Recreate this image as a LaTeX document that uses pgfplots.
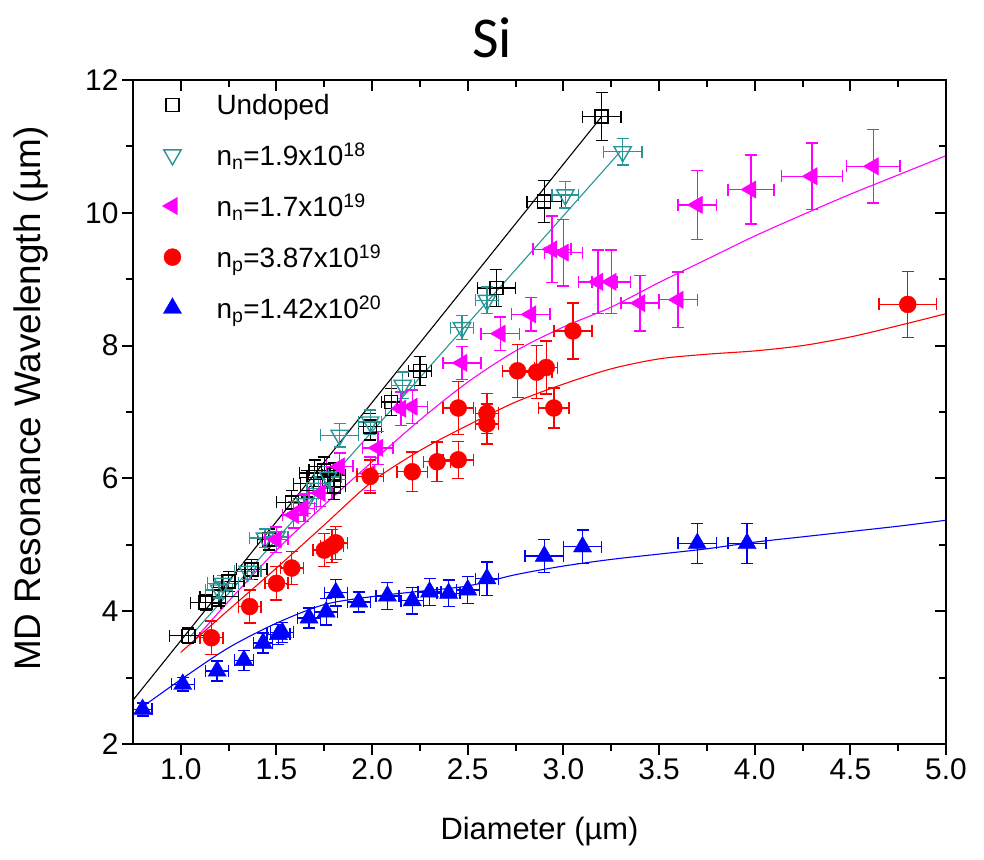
\documentclass[border=0pt]{standalone}
\usepackage{fontspec}
\setmainfont{Liberation Sans}
\newfontfamily\calibri{Carlito}
\usepackage{pgfplots}
\pgfplotsset{compat=1.18}
\usepackage{pgfplotstable}

\definecolor{cteal}{RGB}{40,150,150}
\definecolor{cmag}{RGB}{255,0,255}
\definecolor{cred}{RGB}{255,0,0}
\definecolor{cblue}{RGB}{0,0,255}

\pgfplotstableread{
x y ex ey
1.04 3.63 0.10 0.12
1.13 4.13 0.08 0.12
1.20 4.22 0.10 0.14
1.25 4.45 0.08 0.15
1.37 4.63 0.08 0.15
1.46 5.08 0.06 0.16
1.58 5.64 0.08 0.18
1.66 5.92 0.07 0.20
1.70 6.08 0.08 0.20
1.75 6.12 0.08 0.20
1.80 6.05 0.06 0.18
1.80 5.88 0.06 0.20
1.99 6.78 0.06 0.20
2.10 7.15 0.05 0.20
2.25 7.62 0.06 0.22
2.65 8.87 0.10 0.28
2.90 10.17 0.09 0.32
3.20 11.45 0.10 0.36
}\undoped

\pgfplotstableread{
x y ex ey
1.20 4.32 0.07 0.12
1.22 4.42 0.08 0.12
1.35 4.60 0.07 0.12
1.44 5.10 0.08 0.14
1.50 5.12 0.06 0.14
1.65 5.62 0.06 0.15
1.72 5.85 0.06 0.15
1.77 6.02 0.07 0.16
1.83 6.65 0.10 0.18
1.99 6.85 0.06 0.18
2.16 7.40 0.06 0.20
2.47 8.27 0.06 0.18
2.60 8.68 0.06 0.20
3.01 10.27 0.07 0.20
3.31 10.92 0.10 0.20
}\nnlow

\pgfplotstableread{
x y ex ey
1.50 5.08 0.06 0.20
1.59 5.45 0.06 0.20
1.64 5.55 0.06 0.20
1.73 5.78 0.06 0.20
1.83 6.18 0.07 0.20
1.99 6.07 0.07 0.25
2.03 6.46 0.08 0.25
2.15 7.05 0.08 0.25
2.21 7.08 0.08 0.25
2.47 7.74 0.10 0.25
2.67 8.18 0.10 0.25
2.83 8.47 0.10 0.25
2.94 9.45 0.10 0.50
3.00 9.40 0.10 0.50
3.18 8.96 0.10 0.48
3.25 8.96 0.10 0.48
3.40 8.64 0.10 0.42
3.60 8.69 0.10 0.42
3.70 10.12 0.10 0.52
3.98 10.35 0.12 0.52
4.30 10.55 0.16 0.50
4.62 10.70 0.14 0.55
}\nnhigh

\pgfplotstableread{
x y ex ey
1.16 3.60 0.06 0.25
1.36 4.07 0.06 0.25
1.50 4.42 0.06 0.25
1.58 4.65 0.06 0.25
1.75 4.92 0.06 0.25
1.79 4.98 0.06 0.25
1.81 5.03 0.06 0.25
1.99 6.03 0.07 0.25
2.21 6.10 0.08 0.30
2.34 6.25 0.07 0.30
2.45 6.28 0.08 0.28
2.45 7.06 0.08 0.40
2.60 6.82 0.06 0.30
2.60 6.98 0.06 0.30
2.76 7.62 0.08 0.40
2.86 7.60 0.08 0.40
2.91 7.67 0.06 0.40
2.95 7.06 0.08 0.30
3.05 8.22 0.10 0.42
4.80 8.62 0.15 0.50
}\nplow

\pgfplotstableread{
x y ex ey
0.80 2.52 0.05 0.10
1.01 2.90 0.06 0.10
1.19 3.10 0.06 0.15
1.33 3.26 0.05 0.15
1.43 3.52 0.05 0.15
1.51 3.65 0.06 0.15
1.53 3.68 0.06 0.15
1.67 3.90 0.06 0.15
1.76 3.99 0.06 0.20
1.81 4.28 0.06 0.20
1.93 4.14 0.06 0.15
2.08 4.23 0.06 0.20
2.21 4.16 0.06 0.20
2.30 4.29 0.06 0.20
2.40 4.27 0.06 0.20
2.50 4.32 0.06 0.20
2.60 4.49 0.06 0.25
2.90 4.83 0.10 0.25
3.10 4.97 0.10 0.25
3.70 5.02 0.10 0.30
3.96 5.02 0.10 0.30
}\nphigh

\pgfplotsset{
  eb/.style={error bars/.cd, x dir=both, x explicit, y dir=both, y explicit,
    error bar style={line width=1.4bp, #1},
    error mark options={rotate=90, mark size=6bp, line width=1.4bp, #1}},
}

\begin{document}
\begin{tikzpicture}
\useasboundingbox (-133bp,-116bp) rectangle (851bp,744bp);
\node[font=\calibri\fontsize{58}{60}\selectfont] at (359bp,706bp) {Si};
\begin{axis}[
  scale only axis, width=813bp, height=664bp,
  xmin=0.75, xmax=5.0, ymin=2, ymax=12,
  xtick={1,1.5,2,2.5,3,3.5,4,4.5,5}, minor x tick num=1,
  ytick={2,4,6,8,10,12}, minor y tick num=1,
  xtick pos=left, ytick pos=left,
  tick align=outside,
  major tick length=11bp, minor tick length=7bp,
  every tick/.style={black, line width=2bp},
  axis line style={line width=2.2bp},
  tick label style={font=\fontsize{30}{36}\selectfont},
  /pgf/number format/assume math mode=true,
  xticklabel style={/pgf/number format/.cd, fixed, fixed zerofill, precision=1},
  xlabel={Diameter (µm)}, ylabel={MD Resonance Wavelength (µm)},
  every axis x label/.style={at={(axis description cs:0.5,-0.1325)}, anchor=center, font=\fontsize{31}{36}\selectfont},
  every axis y label/.style={at={(axis description cs:-0.125,0.52)}, anchor=center, rotate=90, font=\fontsize{37}{42}\selectfont},
  legend cell align=left,
  legend style={at={(axis description cs:0.036,0.982)}, anchor=north west, draw=none, fill=none,
    font=\fontsize{28}{34}\selectfont, row sep=23bp, inner sep=0pt,
    /tikz/every odd column/.append style={column sep=33bp}},
]
% fit lines
\addplot[black, line width=1.1bp, forget plot] coordinates {(0.75,2.66) (3.2,11.45)};
\addplot[cteal, line width=1.1bp, forget plot] coordinates {(1.05,3.62) (3.3,10.93)};
\addplot[cmag, line width=1.1bp, smooth, forget plot] coordinates {(1.05,3.5) (1.25,4.15) (1.5,4.92) (1.75,5.6) (2.0,6.25) (2.25,6.88) (2.5,7.45) (2.75,7.92) (3.0,8.28) (3.25,8.58) (3.5,8.95) (3.75,9.3) (4.0,9.65) (4.25,9.97) (4.5,10.28) (4.75,10.57) (5.0,10.86)};
\addplot[cred, line width=1.1bp, smooth, forget plot] coordinates {(1.0,3.38) (1.25,4.02) (1.5,4.65) (1.75,5.3) (2.0,5.95) (2.25,6.42) (2.5,6.8) (2.75,7.15) (3.0,7.42) (3.25,7.65) (3.5,7.8) (3.75,7.87) (4.0,7.92) (4.25,8.0) (4.5,8.13) (4.75,8.3) (5.0,8.48)};
\addplot[cblue, line width=1.1bp, smooth, forget plot] coordinates {(0.78,2.52) (1.0,2.97) (1.25,3.45) (1.5,3.82) (1.75,4.1) (2.0,4.22) (2.25,4.3) (2.5,4.38) (2.75,4.55) (3.0,4.68) (3.25,4.78) (3.5,4.86) (3.75,4.94) (4.0,5.04) (4.25,5.12) (4.5,5.2) (4.75,5.28) (5.0,5.37)};
% data
\addplot[only marks, black, mark=square, mark size=6.5bp, mark options={fill=white, line width=1.4bp}, eb=black]
  table[x=x, y=y, x error=ex, y error=ey] {\undoped};
\addlegendentry{Undoped}
\addplot[only marks, cteal, mark=triangle, mark size=10bp, mark options={rotate=180, fill=white, line width=1.4bp}, eb=cteal]
  table[x=x, y=y, x error=ex, y error=ey] {\nnlow};
\addlegendentry{n\textsubscript{n}=1.9x10\textsuperscript{18}}
\addplot[only marks, cmag, mark=triangle*, mark size=10bp, mark options={rotate=90}, eb=cmag]
  table[x=x, y=y, x error=ex, y error=ey] {\nnhigh};
\addlegendentry{n\textsubscript{n}=1.7x10\textsuperscript{19}}
\addplot[only marks, cred, mark=*, mark size=8.5bp, eb=cred]
  table[x=x, y=y, x error=ex, y error=ey] {\nplow};
\addlegendentry{n\textsubscript{p}=3.87x10\textsuperscript{19}}
\addplot[only marks, cblue, mark=triangle*, mark size=10.5bp, eb=cblue]
  table[x=x, y=y, x error=ex, y error=ey] {\nphigh};
\addlegendentry{n\textsubscript{p}=1.42x10\textsuperscript{20}}
\end{axis}
\begin{axis}[
  scale only axis, width=813bp, height=664bp,
  xmin=0.75, xmax=5.0, ymin=2, ymax=12,
  xtick={1,1.5,2,2.5,3,3.5,4,4.5,5}, minor x tick num=1,
  ytick={2,4,6,8,10,12}, minor y tick num=1,
  xtick pos=right, ytick pos=right,
  tick align=inside,
  major tick length=11bp, minor tick length=7bp,
  every tick/.style={black, line width=2bp},
  axis line style={line width=2.2bp},
  xticklabels={}, yticklabels={},
]
\end{axis}
\end{tikzpicture}
\end{document}
